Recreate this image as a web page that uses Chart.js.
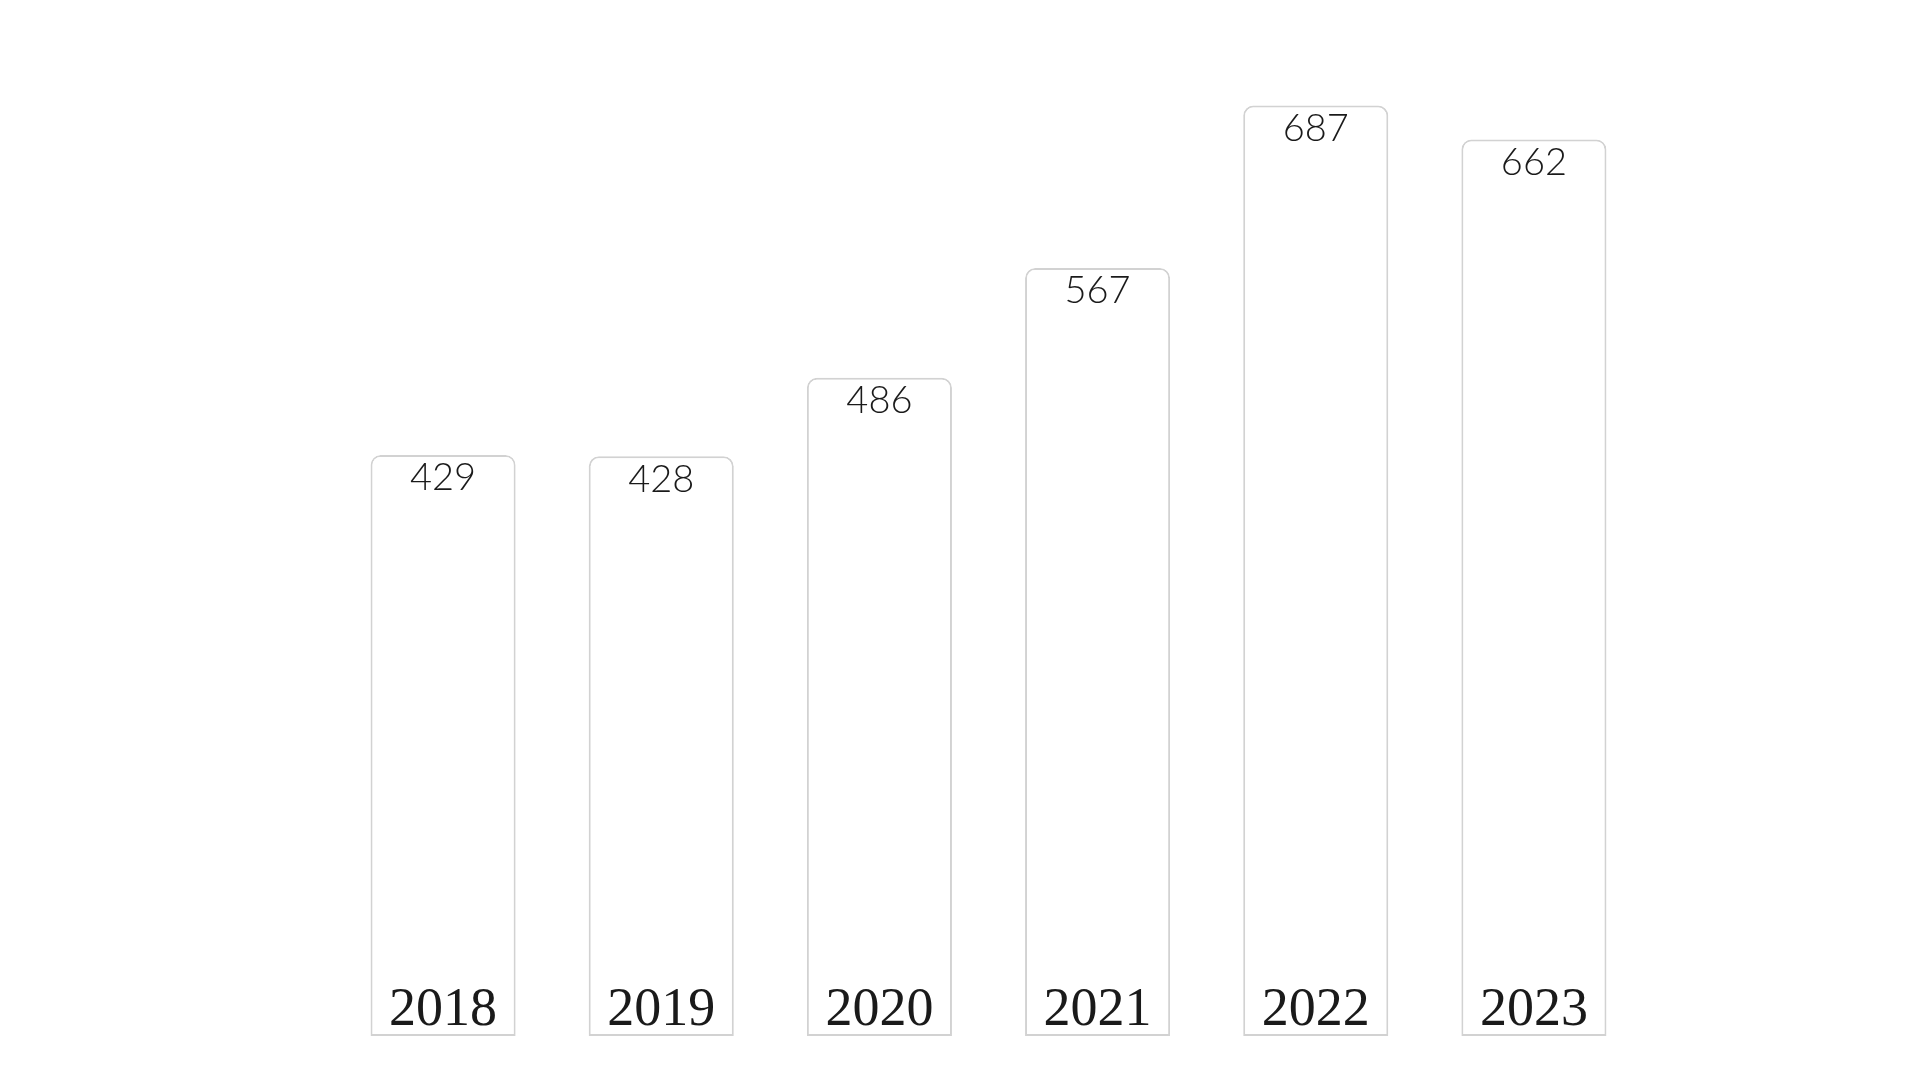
<!DOCTYPE html>
<html>
<head>
<meta charset="utf-8">
<script src="https://cdn.jsdelivr.net/npm/chart.js@4.4.0/dist/chart.umd.min.js"></script>
<style>
  html, body { margin: 0; padding: 0; background: #ffffff; }
  #wrap { width: 1920px; height: 1080px; }
</style>
</head>
<body>
<div id="wrap"><canvas id="chart" width="1920" height="1080"></canvas></div>
<script>
// data
const years = ['2018', '2019', '2020', '2021', '2022', '2023'];
const values = [429, 428, 486, 567, 687, 662];

// draws the value at the top of each bar and the year at its foot
const barLabels = {
    id: 'barLabels',
    afterDatasetsDraw(chart) {
        const ctx = chart.ctx;
        const meta = chart.getDatasetMeta(0);
        const bottom = chart.scales.y.getPixelForValue(0);
        ctx.save();
        ctx.fillStyle = '#1a1a1a';
        ctx.textAlign = 'center';
        meta.data.forEach((bar, i) => {
            ctx.font = '300 38px Lato, "Noto Sans", sans-serif';
            ctx.textBaseline = 'top';
            ctx.fillText(String(values[i]), bar.x, bar.y + 4);

            ctx.font = '54px "Liberation Serif", "DejaVu Serif", serif';
            ctx.textBaseline = 'alphabetic';
            ctx.fillText(years[i], bar.x, bottom - 11);
        });
        ctx.restore();
    }
};

const ctx = document.getElementById('chart').getContext('2d');
new Chart(ctx, {
    type: 'bar',
    data: {
        labels: years,
        datasets: [{
            data: values,
            backgroundColor: '#ffffff',
            borderColor: '#d2d2d2',
            borderWidth: 2,
            borderSkipped: false,
            borderRadius: { topLeft: 10, topRight: 10, bottomLeft: 0, bottomRight: 0 },
            categoryPercentage: 0.665,
            barPercentage: 1
        }]
    },
    options: {
        responsive: false,
        animation: false,
        layout: { padding: { left: 334, right: 277, top: 88, bottom: 44 } },
        plugins: {
            legend: { display: false },
            tooltip: { enabled: false }
        },
        scales: {
            x: { display: false },
            y: { display: false, min: 0, max: 700 }
        }
    },
    plugins: [barLabels]
});
</script>
</body>
</html>
